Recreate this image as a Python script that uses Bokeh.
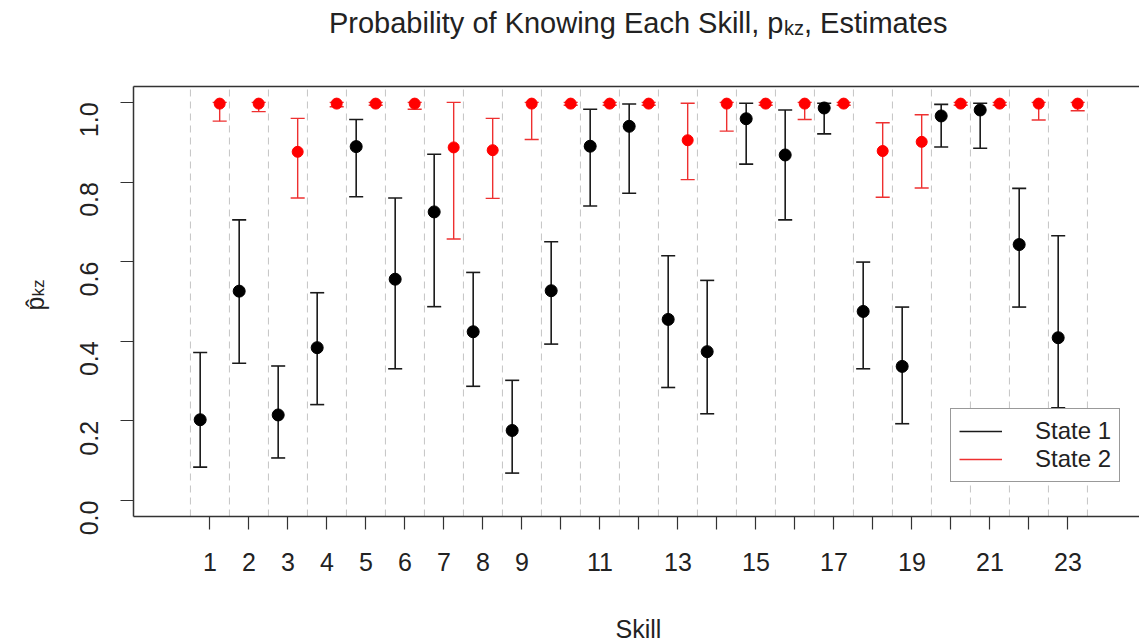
import math
from bokeh.plotting import figure
from bokeh.models import (ColumnDataSource, Range1d, FixedTicker, PrintfTickFormatter,
                          Label, Legend, LegendItem, LinearAxis)
from bokeh.transform import dodge
from bokeh.embed import file_html
from bokeh.resources import INLINE

# ---------------- data ----------------
skills = [1, 2, 3, 4, 5, 6, 7, 8, 9, 10, 11, 12, 13, 14, 15, 16, 17, 18, 19, 20, 21, 22, 23]
x_tick_labels = ["1", "2", "3", "4", "5", "6", "7", "8", "9", "", "11", "", "13", "",
                 "15", "", "17", "", "19", "", "21", "", "23"]
y_ticks = [0.0, 0.2, 0.4, 0.6, 0.8, 1.0]

state1_est = [0.203, 0.526, 0.215, 0.384, 0.889, 0.556, 0.725, 0.424, 0.176, 0.527, 0.890, 0.940,
              0.455, 0.374, 0.959, 0.868, 0.986, 0.475, 0.337, 0.966, 0.981, 0.643, 0.409]
state1_lo = [0.084, 0.345, 0.107, 0.241, 0.763, 0.331, 0.487, 0.287, 0.069, 0.393, 0.740, 0.772,
             0.284, 0.218, 0.845, 0.705, 0.921, 0.331, 0.193, 0.888, 0.885, 0.486, 0.233]
state1_hi = [0.372, 0.705, 0.338, 0.522, 0.957, 0.760, 0.870, 0.573, 0.302, 0.650, 0.983, 0.996,
             0.615, 0.553, 0.998, 0.981, 0.998, 0.599, 0.486, 0.995, 0.998, 0.784, 0.665]

state2_est = [0.997, 0.997, 0.876, 0.997, 0.997, 0.997, 0.887, 0.880, 0.997, 0.997, 0.997, 0.997,
              0.905, 0.997, 0.997, 0.997, 0.997, 0.878, 0.901, 0.997, 0.997, 0.997, 0.997]
state2_lo = [0.953, 0.977, 0.760, 0.989, 0.993, 0.983, 0.657, 0.759, 0.907, 0.993, 0.993, 0.993,
             0.806, 0.928, 0.993, 0.957, 0.993, 0.762, 0.785, 0.993, 0.993, 0.956, 0.979]
state2_hi = [1.000, 1.000, 0.960, 1.000, 1.000, 1.000, 1.000, 0.960, 1.000, 1.000, 1.000, 1.000,
             0.998, 1.000, 1.000, 1.000, 1.000, 0.949, 0.969, 1.000, 1.000, 1.000, 1.000]

# plot-region limits (R style: 4% extension) and the visible canvas extents
XLIM = (-0.96, 24.835)
YLIM = (-0.04, 1.04)
X_VIEW = (-4.370, 24.835)
Y_VIEW = (-0.3565, 1.256)

separators = [s - 0.5 for s in skills] + [skills[-1] + 0.5]

src = ColumnDataSource(dict(skill=skills,
                            s1=state1_est, s1_lo=state1_lo, s1_hi=state1_hi,
                            s2=state2_est, s2_lo=state2_lo, s2_hi=state2_hi))
sep_src = ColumnDataSource(dict(x=separators,
                                y0=[YLIM[0]] * len(separators),
                                y1=[YLIM[1]] * len(separators)))

FONT = "Liberation Sans"
TXT = "#222222"
BOX = "#333333"
W, H = 1139, 642

p = figure(width=W, height=H, output_backend="svg", toolbar_location=None,
           x_range=Range1d(*X_VIEW), y_range=Range1d(*Y_VIEW),
           x_axis_location=None, y_axis_location=None,
           min_border=0, min_border_left=0, min_border_right=0,
           min_border_top=0, min_border_bottom=0)
p.outline_line_color = None
p.background_fill_color = "white"
p.border_fill_color = "white"
p.xgrid.grid_line_color = None
p.ygrid.grid_line_color = None
p.grid.visible = False

# dashed separators between skills
p.segment(x0="x", x1="x", y0="y0", y1="y1", source=sep_src, line_color="#c4c4c4",
          line_width=1, line_dash="7 5")

off1, off2, cap = -0.25, 0.25, 0.18
xr = p.x_range

# State 1 (black)
r1 = p.segment(x0=dodge("skill", off1, range=xr), x1=dodge("skill", off1, range=xr),
               y0="s1_lo", y1="s1_hi", source=src, line_color="#1a1a1a", line_width=1.6)
for col in ("s1_lo", "s1_hi"):
    p.segment(x0=dodge("skill", off1 - cap, range=xr), x1=dodge("skill", off1 + cap, range=xr),
              y0=col, y1=col, source=src, line_color="#1a1a1a", line_width=1.6)

# State 2 (red)
r2 = p.segment(x0=dodge("skill", off2, range=xr), x1=dodge("skill", off2, range=xr),
               y0="s2_lo", y1="s2_hi", source=src, line_color="#ee3030", line_width=1.4)
for col in ("s2_lo", "s2_hi"):
    p.segment(x0=dodge("skill", off2 - cap, range=xr), x1=dodge("skill", off2 + cap, range=xr),
              y0=col, y1=col, source=src, line_color="#ee3030", line_width=1.4)

p.scatter(x=dodge("skill", off1, range=xr), y="s1", source=src, size=12,
          fill_color="black", line_color="black")
p.scatter(x=dodge("skill", off2, range=xr), y="s2", source=src, size=11,
          fill_color="#ff0000", line_color="#ff0000")

# ---------------- axes (box) ----------------
xa = LinearAxis(fixed_location=YLIM[0], bounds=XLIM, ticker=FixedTicker(ticks=skills))
xa.major_label_overrides = {s: lab for s, lab in zip(skills, x_tick_labels)}
xa.major_tick_out = 13
xa.major_tick_in = 0
xa.minor_tick_line_color = None
xa.axis_line_color = BOX
xa.axis_line_width = 1.5
xa.major_tick_line_color = BOX
xa.major_tick_line_width = 1.2
xa.major_label_standoff = 24
xa.major_label_text_font = FONT
xa.major_label_text_font_size = "25px"
xa.major_label_text_color = TXT
p.add_layout(xa, "below")

ya = LinearAxis(fixed_location=XLIM[0], bounds=YLIM, ticker=FixedTicker(ticks=y_ticks))
ya.formatter = PrintfTickFormatter(format="%.1f")
ya.major_label_orientation = math.pi / 2
ya.major_tick_out = 13
ya.major_tick_in = 0
ya.minor_tick_line_color = None
ya.axis_line_color = BOX
ya.axis_line_width = 1.5
ya.major_tick_line_color = BOX
ya.major_tick_line_width = 1.2
ya.major_label_standoff = 31
ya.major_label_text_font = FONT
ya.major_label_text_font_size = "25px"
ya.major_label_text_color = TXT
p.add_layout(ya, "left")

top = LinearAxis(fixed_location=YLIM[1], bounds=XLIM, ticker=FixedTicker(ticks=[]))
top.axis_line_color = BOX
top.axis_line_width = 1.5
top.major_tick_line_color = None
top.minor_tick_line_color = None
top.major_label_text_font_size = "0px"
p.add_layout(top, "above")

# ---------------- texts ----------------
def lab(text, x, y, size, **kw):
    p.add_layout(Label(x=x, y=y, x_units="screen", y_units="screen", text=text,
                       text_font=FONT, text_font_size=size, text_color=TXT, **kw))

# title with subscript
lab("Probability of Knowing Each Skill, p", 783, H - 22, "29px",
    text_align="right", text_baseline="alphabetic")
lab("kz", 783.5, H - 27, "20px", text_align="left", text_baseline="alphabetic")
lab(", Estimates", 803.5, H - 22, "29px", text_align="left", text_baseline="alphabetic")

# x-axis title
lab("Skill", 638, H - 628, "25px", text_align="center", text_baseline="middle")

# y-axis title: p-hat with subscript kz, rotated
lab("p\u0302", 34, H - 303, "25px", angle=math.pi / 2,
    text_align="center", text_baseline="alphabetic")
lab("kz", 38, H - 296, "17px", angle=math.pi / 2,
    text_align="left", text_baseline="alphabetic")

# ---------------- legend ----------------
legend = Legend(items=[LegendItem(label="State 1", renderers=[r1]),
                       LegendItem(label="State 2", renderers=[r2])],
                location=(950, H - 482), orientation="vertical",
                padding=8, spacing=0, margin=0,
                glyph_width=43, glyph_height=20, label_height=20, label_standoff=33,
                label_text_font=FONT, label_text_font_size="24px", label_text_color=TXT,
                border_line_color=BOX, border_line_width=1.5,
                background_fill_color="white", background_fill_alpha=1.0)
p.add_layout(legend)

open("out.html", "w").write(file_html(p, INLINE))
